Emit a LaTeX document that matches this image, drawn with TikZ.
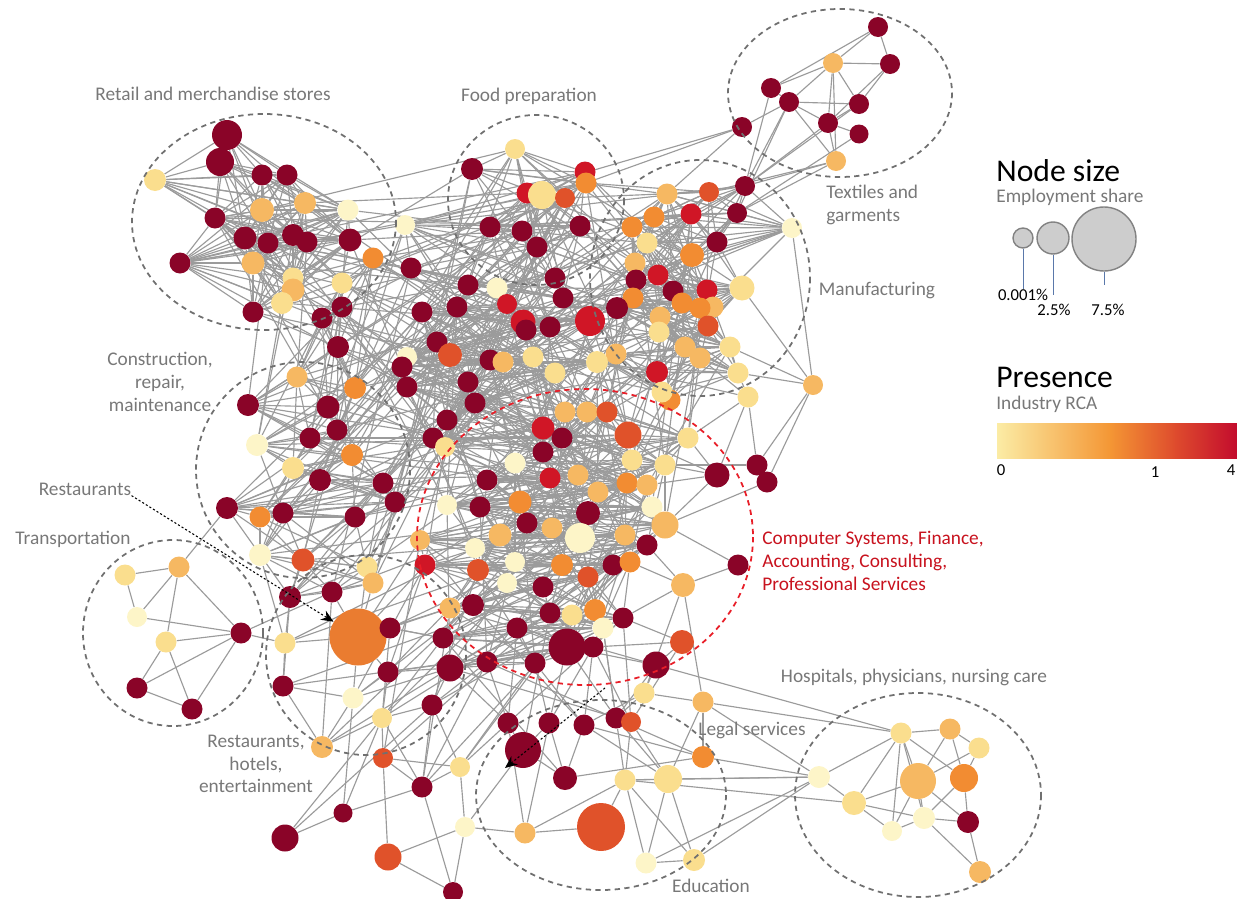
\documentclass[tikz,border=0pt]{standalone}
\usepackage{fontspec}
\setmainfont{Carlito}
\usetikzlibrary{backgrounds,arrows.meta}

\definecolor{cM}{RGB}{138,4,40}
\definecolor{cR}{RGB}{208,22,38}
\definecolor{cO}{RGB}{224,82,42}
\definecolor{cA}{RGB}{242,140,50}
\definecolor{cL}{RGB}{246,184,98}
\definecolor{cY}{RGB}{250,222,142}
\definecolor{cC}{RGB}{253,245,200}
\definecolor{cBig}{RGB}{234,124,48}
\definecolor{linkgray}{RGB}{155,155,155}
\definecolor{ringgray}{RGB}{112,112,112}
\definecolor{ringred}{RGB}{232,30,40}
\definecolor{lblgray}{RGB}{120,120,120}
\definecolor{lblred}{RGB}{200,18,30}
\definecolor{bar0}{RGB}{251,236,165}
\definecolor{bar1}{RGB}{244,150,52}
\definecolor{bar2}{RGB}{222,75,45}
\definecolor{bar3}{RGB}{195,12,45}
\definecolor{legfill}{RGB}{205,205,205}
\definecolor{legedge}{RGB}{130,130,130}
\definecolor{legline}{RGB}{90,120,170}

\begin{document}
\begin{tikzpicture}[x=0.02cm,y=-0.02cm,
    dot/.style={circle,inner sep=0pt,minimum size=#1*0.02cm},
    link/.style={draw=linkgray,line width=0.65pt},
    ring/.style={draw=ringgray,line width=1pt,dash pattern=on 3pt off 2.5pt},
    redring/.style={ring,draw=ringred},
    lbl/.style={text=lblgray,font=\fontsize{11}{13}\selectfont,inner sep=0pt},
    redlbl/.style={lbl,text=lblred},
    pointer/.style={draw=black,line width=0.6pt,dash pattern=on 1.2pt off 1.2pt,-{Stealth[length=7pt,width=6pt]}},
    legdot/.style={dot=#1,fill=legfill,draw=legedge,line width=0.8pt},
    leglink/.style={draw=legline,line width=0.5pt},
    headlbl/.style={anchor=base west,inner sep=0pt,font=\fontsize{18}{20}\selectfont},
    numlbl/.style={font=\fontsize{9.5}{11}\selectfont,inner sep=0pt}]

    \useasboundingbox (0,0) rectangle (1237,899);

    % 节点: 零售
    \foreach \x/\y/\s/\c [count=\i] in {227/135/30/cM, 220/162/28/cM, 155/180/22/cY, 262/175/21/cM, 287/175/21/cM, 262/210/24/cL, 305/203/22/cL, 348/210/21/cC, 215/218/21/cM, 245/238/23/cM, 268/243/21/cM, 293/235/22/cM, 307/242/21/cM, 350/240/23/cM, 180/263/21/cM, 253/263/23/cL, 293/278/21/cY, 293/290/23/cL, 282/303/22/cY, 253/312/21/cM}
        \node[dot=\s,fill=\c] (r\i) at (\x,\y) {};

    % 节点: 食品
    \foreach \x/\y/\s/\c [count=\i] in {472/169/22/cM, 515/149/20/cY, 585/172/21/cR, 586/183/21/cA, 527/193/21/cR, 542/195/28/cY, 565/198/20/cO, 490/227/21/cM, 522/231/21/cM, 537/247/21/cM, 580/226/21/cM, 405/225/20/cC, 555/278/21/cM, 563/298/21/cM, 497/288/21/cC, 468/285/21/cM, 411/268/21/cM}
        \node[dot=\s,fill=\c] (f\i) at (\x,\y) {};

    % 节点: 纺织
    \foreach \x/\y/\s/\c [count=\i] in {878/27/20/cM, 833/63/20/cL, 890/64/20/cM, 771/88/20/cM, 789/102/20/cM, 859/104/20/cM, 828/123/20/cM, 859/134/19/cM, 742/127/20/cM, 836/161/20/cL}
        \node[dot=\s,fill=\c] (t\i) at (\x,\y) {};

    % 节点: 制造业
    \foreach \x/\y/\s/\c [count=\i] in {745/186/20/cM, 737/213/20/cM, 709/192/20/cO, 717/242/21/cM, 792/228/20/cC, 667/194/21/cL, 654/217/21/cA, 691/214/21/cR, 632/227/21/cA, 647/243/21/cY, 692/255/24/cA, 635/263/21/cL, 636/280/21/cM, 658/275/21/cR, 673/291/21/cM, 707/290/21/cR, 742/288/25/cY, 713/307/21/cL, 700/308/21/cA, 708/326/21/cO, 682/303/21/cA, 633/298/21/cA, 660/317/21/cL, 659/332/21/cY, 617/308/22/cM, 685/347/21/cL, 700/358/21/cL, 730/347/21/cY, 738/373/21/cY, 657/372/22/cR, 616/354/21/cL, 670/400/21/cA, 662/392/21/cY}
        \node[dot=\s,fill=\c] (m\i) at (\x,\y) {};

    % 节点: 核心
    \foreach \x/\y/\s/\c [count=\i] in {507/304/20/cR, 523/322/25/cR, 526/330/21/cM, 550/327/21/cM, 590/321/30/cR, 457/307/21/cM, 422/312/21/cM, 437/342/21/cM, 450/355/24/cO, 407/357/20/cC, 402/367/21/cM, 490/360/21/cM, 503/362/21/cL, 533/357/21/cY, 555/373/21/cY, 597/362/22/cY, 468/382/21/cM, 407/387/21/cM, 475/403/21/cM, 447/420/21/cM, 433/438/21/cM, 445/447/20/cY, 543/428/23/cR, 562/438/21/cM, 543/452/21/cM, 565/412/21/cL, 587/412/21/cL, 607/412/21/cO, 628/435/27/cO, 688/438/21/cY, 632/460/21/cY, 665/465/21/cY, 515/463/21/cC, 487/480/21/cM, 550/478/21/cR, 578/475/21/cL, 598/492/21/cL, 627/483/21/cA, 647/485/21/cL, 447/505/20/cC, 480/507/21/cM, 520/502/23/cA, 588/513/24/cM, 652/507/21/cC, 665/525/27/cL, 527/523/21/cM, 552/528/21/cL, 580/538/30/cC, 500/535/23/cL, 625/535/21/cL, 420/540/20/cL, 475/548/20/cC, 647/545/21/cM, 515/562/20/cC, 478/570/22/cO, 425/565/21/cR, 562/565/22/cA, 588/577/21/cO, 613/565/21/cM, 630/562/21/cA, 507/583/20/cC, 543/587/21/cM, 450/608/21/cL, 473/605/22/cM, 550/613/21/cM, 572/615/21/cY, 595/610/22/cA, 623/618/21/cM, 603/628/21/cC, 443/638/21/cM, 517/628/21/cM, 567/647/37/cM, 593/647/21/cM, 450/668/27/cM, 487/662/21/cM, 535/663/21/cM}
        \node[dot=\s,fill=\c] (c\i) at (\x,\y) {};

    % 节点: 外围
    \foreach \x/\y/\s/\c [count=\i] in {717/475/25/cM, 757/465/21/cM, 767/482/21/cM, 738/565/21/cM, 683/585/24/cL, 682/642/24/cO, 656/665/27/cM, 644/693/21/cY, 703/702/21/cL, 813/385/20/cL, 748/397/21/cY}
        \node[dot=\s,fill=\c] (u\i) at (\x,\y) {};

    % 节点: 建筑
    \foreach \x/\y/\s/\c [count=\i] in {342/283/21/cY, 373/258/21/cA, 342/307/21/cM, 322/318/21/cM, 338/347/22/cM, 297/377/21/cL, 355/388/22/cA, 248/405/22/cM, 328/407/23/cM, 337/430/21/cM, 310/438/21/cM, 257/445/22/cC, 352/455/22/cA, 293/468/22/cY, 320/480/22/cM, 383/483/21/cM, 395/502/21/cM, 227/508/22/cM, 260/517/21/cA, 283/513/21/cM, 355/517/21/cM, 260/555/22/cC, 303/560/23/cO, 367/567/21/cY, 373/583/21/cL, 290/597/22/cM, 332/592/21/cM}
        \node[dot=\s,fill=\c] (k\i) at (\x,\y) {};

    % 节点: 交通
    \foreach \x/\y/\s/\c [count=\i] in {125/575/21/cY, 179/567/21/cL, 137/617/20/cC, 166/642/21/cY, 241/633/21/cM, 137/688/21/cM, 192/709/21/cM}
        \node[dot=\s,fill=\c] (p\i) at (\x,\y) {};

    % 节点: 餐饮
    \foreach \x/\y/\s/\c [count=\i] in {358/637/57/cBig, 390/628/21/cM, 285/643/21/cY, 388/672/21/cM, 283/686/21/cM, 353/698/21/cC, 382/718/20/cY, 322/747/22/cL, 383/758/20/cO, 432/705/21/cM, 460/767/20/cY, 422/787/21/cM, 343/813/19/cM, 285/838/27/cM, 388/857/27/cO, 465/827/20/cC, 453/892/20/cM}
        \node[dot=\s,fill=\c] (h\i) at (\x,\y) {};

    % 节点: 教育
    \foreach \x/\y/\s/\c [count=\i] in {508/723/21/cM, 549/723/21/cM, 584/725/21/cM, 616/718/21/cM, 631/722/20/cO, 523/750/36/cM, 565/778/24/cM, 703/757/22/cA, 625/780/21/cY, 668/779/28/cY, 525/833/21/cL, 601/827/48/cO, 646/863/21/cC, 694/860/22/cY}
        \node[dot=\s,fill=\c] (e\i) at (\x,\y) {};

    % 节点: 医院
    \foreach \x/\y/\s/\c [count=\i] in {901/733/21/cY, 950/729/21/cL, 979/748/21/cY, 918/781/36/cL, 964/778/28/cA, 819/777/22/cC, 854/803/24/cY, 892/831/20/cC, 924/818/22/cC, 968/822/22/cM, 980/872/22/cL}
        \node[dot=\s,fill=\c] (d\i) at (\x,\y) {};

    % 连线 (放在背景层)
    \begin{scope}[on background layer]
    % 1. 簇内连线
    \foreach \i in {1,...,20}
        \foreach \k in {1,...,10} {
            \pgfmathtruncatemacro\j{\i+\k}
            \ifnum\j<21 \draw[link] (r\i) -- (r\j); \fi
        }
    \foreach \i in {1,...,17}
        \foreach \k in {1,2,3,5,8} {
            \pgfmathtruncatemacro\j{\i+\k}
            \ifnum\j<18 \draw[link] (f\i) -- (f\j); \fi
        }
    \foreach \i in {1,...,33}
        \foreach \k in {1,2,3,4,5,6,9,13} {
            \pgfmathtruncatemacro\j{\i+\k}
            \ifnum\j<34 \draw[link] (m\i) -- (m\j); \fi
        }
    \foreach \i in {1,...,76}
        \foreach \k in {1,2,3,5,8,13,21,34} {
            \pgfmathtruncatemacro\j{\i+\k}
            \ifnum\j<77 \draw[link] (c\i) -- (c\j); \fi
        }
    \foreach \i in {1,...,27}
        \foreach \k in {1,2,3,5,8} {
            \pgfmathtruncatemacro\j{\i+\k}
            \ifnum\j<28 \draw[link] (k\i) -- (k\j); \fi
        }

    % 2. 簇间连线
    \foreach \i in {1,...,33} {
        \pgfmathtruncatemacro\j{mod(\i*7,32)+1}
        \draw[link] (m\i) -- (c\j);
        \pgfmathtruncatemacro\j{mod(\i*11,45)+1}
        \draw[link] (m\i) -- (c\j);
    }
    \foreach \i in {1,...,17} {
        \pgfmathtruncatemacro\j{mod(\i*5,33)+1}
        \draw[link] (f\i) -- (m\j);
        \pgfmathtruncatemacro\j{mod(\i*8+3,33)+1}
        \draw[link] (f\i) -- (m\j);
        \pgfmathtruncatemacro\j{mod(\i*3,24)+1}
        \draw[link] (f\i) -- (c\j);
        \pgfmathtruncatemacro\j{mod(\i*7,30)+1}
        \draw[link] (f\i) -- (c\j);
    }
    \foreach \i in {1,...,27} {
        \pgfmathtruncatemacro\j{mod(\i*7,56)+1}
        \draw[link] (k\i) -- (c\j);
        \pgfmathtruncatemacro\j{mod(\i*13,40)+1}
        \draw[link] (k\i) -- (c\j);
        \pgfmathtruncatemacro\j{mod(\i*5,17)+1}
        \draw[link] (k\i) -- (f\j);
    }
    \foreach \i in {6,...,20} {
        \pgfmathtruncatemacro\j{mod(\i*3,17)+1}
        \draw[link] (r\i) -- (f\j);
        \pgfmathtruncatemacro\j{mod(\i*5,12)+1}
        \draw[link] (r\i) -- (k\j);
        \pgfmathtruncatemacro\j{mod(\i*7,22)+1}
        \draw[link] (r\i) -- (c\j);
    }
    \foreach \i in {2,...,12} {
        \pgfmathtruncatemacro\j{mod(\i*9,25)+52}
        \draw[link] (h\i) -- (c\j);
        \pgfmathtruncatemacro\j{mod(\i*4,25)+40}
        \draw[link] (h\i) -- (c\j);
    }
    \foreach \i in {1,...,8} {
        \pgfmathtruncatemacro\j{mod(\i*5,14)+63}
        \draw[link] (e\i) -- (c\j);
    }

    % 3. 稀疏部分逐条画
    \foreach \a/\b in {t1/t2, t1/t3, t2/t3, t1/t4, t2/t4, t2/t5, t2/t7, t2/t10, t2/t6, t3/t6, t5/t6, t5/t7, t6/t7, t7/t8, t7/t10, t5/t10, t4/t5, t9/t5, t3/t7, t5/m1, t5/m2, t6/m1, t10/m1, t10/m2, t7/m1, t10/m3, t9/f4, t9/m6, t4/m1, t8/m2, f12/t9}
        \draw[link] (\a) -- (\b);
    \foreach \a/\b in {p1/p2, p1/p3, p2/p3, p2/p4, p2/p5, p3/p5, p4/p5, p4/p6, p4/p7, p6/p5, p6/p7, p7/p5, p2/k18, p5/h3, p5/k27}
        \draw[link] (\a) -- (\b);
    \foreach \a/\b in {h5/h6, h5/h8, h6/h8, h7/h8, h7/h9, h7/h12, h7/h13, h7/h2, h7/h10, h9/h11, h9/h15, h11/h12, h11/h16, h12/h13, h13/h14, h14/h7, h15/h16, h15/h17, h16/h17, h13/h6, h10/h12, h10/h11, h4/h6, h4/h7, h2/h1, h3/h1, h5/h3, h1/h6, h1/h4, h1/k24, h1/k25, h1/k27, h1/c56, h1/c51, h1/c63, h3/k22, h3/k26, h5/k26, h2/c70, h4/c74, h6/c74, h7/c70, h10/c74, h10/c75, h12/c75, h11/e1, h16/e6, h16/e11, h17/h12, h8/k27, h14/h10, h2/c63, h4/c72, h9/h12}
        \draw[link] (\a) -- (\b);
    \foreach \a/\b in {e6/e1, e6/e2, e6/e7, e7/e2, e7/e8, e7/e3, e9/e5, e9/e4, e9/e10, e9/e13, e9/e14, e9/e11, e10/e5, e10/e13, e10/e14, e10/e3, e11/e12, e11/e2, e13/e14, e8/e3, e1/c75, e2/c72, e3/c73, e4/c72, e5/c68, e1/c71, e2/c76, e3/c76, e4/c69, e5/c73, e12/e9, e11/e1, e4/e10, e8/u9, e1/c74}
        \draw[link] (\a) -- (\b);
    \foreach \a/\b in {d6/d1, d6/d7, d1/d2, d1/d4, d1/d5, d1/d8, d1/d7, d1/d9, d2/d4, d2/d3, d3/d5, d3/d4, d4/d7, d4/d8, d4/d9, d4/d10, d5/d9, d5/d10, d7/d8, d7/d9, d9/d10, d10/d11, d9/d11, d8/d9, d2/d5, d6/e8, d6/e9, d6/e10, d6/e13, d6/e14, d7/e9, d1/u7, d6/u9, d1/u9}
        \draw[link] (\a) -- (\b);
    \foreach \a/\b in {u1/c30, u1/c29, u1/c39, u1/c45, u1/c32, u1/u11, u2/u10, u2/u3, u2/u11, u3/u10, u3/c45, u4/c45, u4/u5, u5/c60, u5/c53, u5/c68, u5/u8, u5/u9, u6/c68, u6/c73, u6/u7, u6/e5, u7/c72, u7/c73, u7/e4, u7/u8, u8/e3, u8/e4, u8/u9, u10/m17, u10/m28, u10/m29, u11/m29, u11/m27, u11/c30, u10/m5, u11/c16, u2/c32, u9/e10}
        \draw[link] (\a) -- (\b);
    \end{scope}

    % 虚线圈
    \draw[ring] (264,222) ellipse [x radius=132, y radius=108];
    \draw[ring] (536,200) ellipse [x radius=88, y radius=85];
    \draw[ring] (840,93) ellipse [x radius=112, y radius=84];
    \draw[ring] (700,278) ellipse [x radius=110, y radius=118];
    \draw[ring] (303,470) ellipse [x radius=107, y radius=108];
    \draw[ring] (173,633) ellipse [x radius=90, y radius=93];
    \draw[ring] (366,655) ellipse [x radius=100, y radius=100];
    \draw[ring] (601,795) ellipse [x radius=125, y radius=95];
    \draw[ring] (918,795) ellipse [x radius=123, y radius=102];
    \draw[redring] (585,537) ellipse [x radius=168, y radius=148];

    % 标签
    \node[lbl] (retail) at (213,94) {Retail and merchandise stores};
    \node[lbl] (food) at (529,96) {Food preparation};
    \node[lbl,anchor=west,align=left] (textile) at (826,205) {Textiles and\\garments};
    \node[lbl] (manuf) at (877,291) {Manufacturing};
    \node[lbl,align=center] (constr) at (160,382) {Construction,\\repair,\\maintenance};
    \node[lbl] (restlbl) at (85,489) {Restaurants};
    \node[lbl] (transp) at (73,539) {Transportation};
    \node[lbl,align=center] (hotel) at (256,764) {Restaurants,\\hotels,\\entertainment};
    \node[lbl] (legal) at (752,730) {Legal services};
    \node[lbl] (educ) at (711,886) {Education};
    \node[lbl] (hosp) at (914,677) {Hospitals, physicians, nursing care};
    \node[redlbl,anchor=west,align=left] (comp) at (762,561) {Computer Systems, Finance,\\Accounting, Consulting,\\Professional Services};

    % 指示箭头
    \draw[pointer] (restlbl.south east) -- (h1);
    \coordinate (lgfrom) at (605,688);
    \coordinate (lgto) at (505,768);
    \draw[pointer] (lgfrom) -- (lgto);

    % 图例: 节点大小
    \node[headlbl] (szhead) at (996,181) {Node size};
    \node[lbl,anchor=base west] (szsub) at (996,202) {Employment share};
    \node[legdot=20] (sz1) at (1023,238) {};
    \node[legdot=32] (sz2) at (1053,238) {};
    \node[legdot=64] (sz3) at (1104,239) {};
    \draw[leglink] (sz1.south) -- ++(0,40);
    \draw[leglink] (sz2.south) -- ++(0,40);
    \draw[leglink] (sz3.south) -- ++(0,13);
    \node[numlbl] (sz1lab) at (1023,295) {0.001\%};
    \node[numlbl] (sz2lab) at (1054,310) {2.5\%};
    \node[numlbl] (sz3lab) at (1108,310) {7.5\%};

    % 图例: 颜色
    \node[headlbl] (prhead) at (996,387) {Presence};
    \node[lbl,anchor=base west] (prsub) at (996,409) {Industry RCA};
    \shade[left color=bar0,right color=bar1] (997,423) rectangle (1111,458);
    \shade[left color=bar1,right color=bar2] (1110,423) rectangle (1176,458);
    \shade[left color=bar2,right color=bar3] (1175,423) rectangle (1237,458);
    \node[numlbl] (bar0lab) at (1001,470) {0};
    \node[numlbl] (bar1lab) at (1155,472) {1};
    \node[numlbl] (bar4lab) at (1231,470) {4};

\end{tikzpicture}
\end{document}
